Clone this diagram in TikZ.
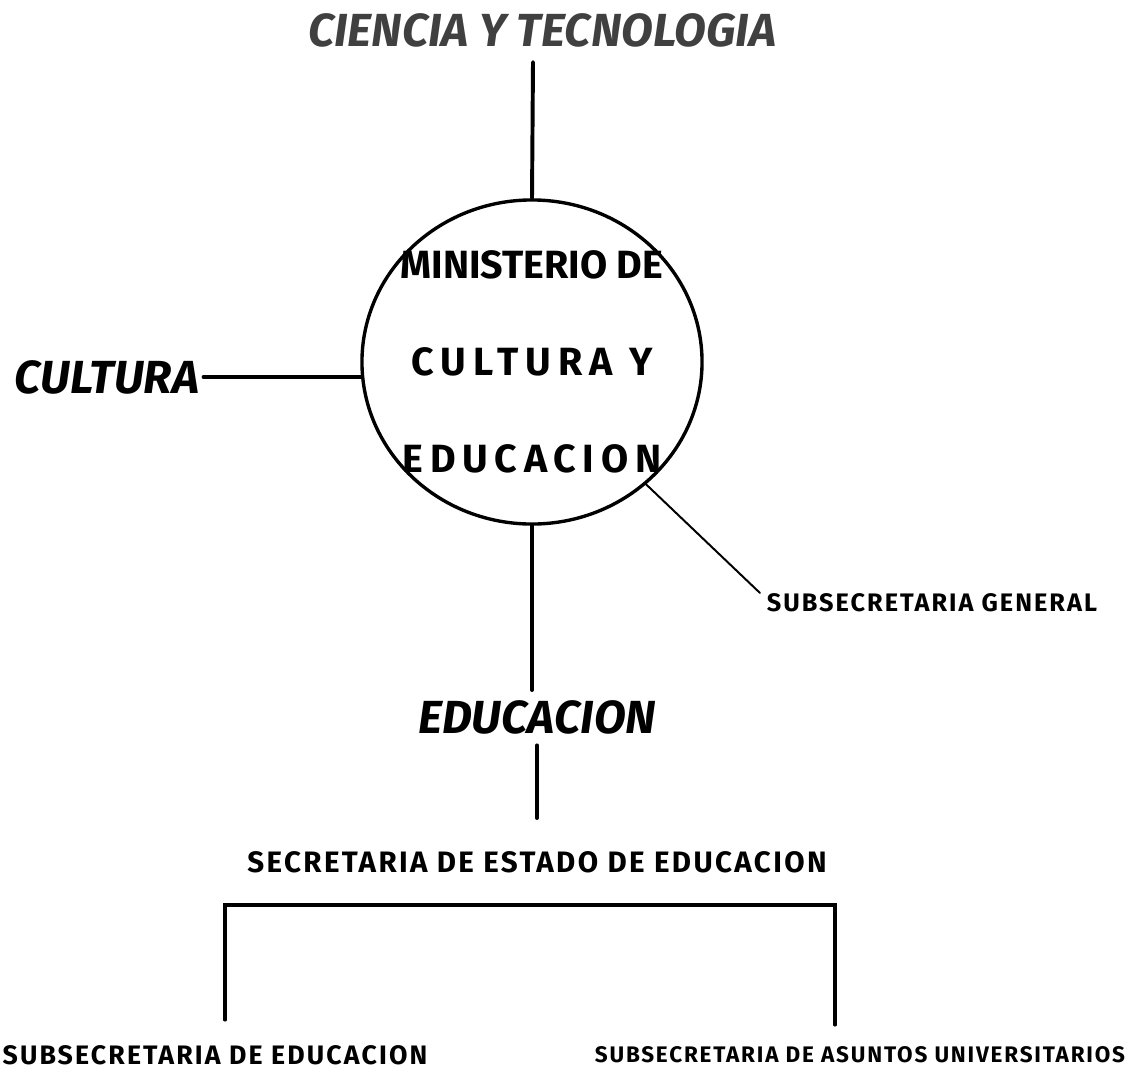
\documentclass[tikz,border=0pt]{standalone}
\usepackage{fontspec}
\setmainfont{Fira Sans}
\usetikzlibrary{shapes.geometric}

\begin{document}
\begin{tikzpicture}[x=0.025cm, y=-0.025cm, line cap=round]
    \tikzstyle{every node}=[inner sep=0pt];
    \tikzstyle{big}=[font=\fontsize{33}{36}\selectfont\bfseries\itshape];
    \tikzstyle{ring}=[font=\fontsize{28}{69}\selectfont\bfseries, align=center];
    \tikzset{small/.style={font=\fontsize{#1}{#1}\selectfont\bfseries\addfontfeature{LetterSpace=8}}};
    \tikzstyle{heavy}=[line width=2.8pt];
    \tikzstyle{light}=[line width=1.4pt];

    \useasboundingbox (0,0) rectangle (1131,1073);

    \node at (542, 30)   (ciencia) [big, text=darkgray] {CIENCIA Y TECNOLOGIA};
    \node at (532, 362)  (mce) [ellipse, draw, line width=2.4pt,
        minimum width=8.5cm, minimum height=8.1cm,
        label={[ring]center:MINISTERIO DE\\{\addfontfeature{LetterSpace=18}CULTURA Y}\\{\addfontfeature{LetterSpace=17}EDUCACION}}] {};
    \node at (107, 377)  (cultura) [big] {CULTURA};
    \node at (537, 717)  (educ) [big] {EDUCACION};
    \node at (932, 603)  (subgen) [small=18] {SUBSECRETARIA GENERAL};
    \node at (537, 862)  (secest) [small=21] {SECRETARIA DE ESTADO DE EDUCACION};
    \node at (215, 1055) (subedu) [small=19] {SUBSECRETARIA DE EDUCACION};
    \node at (860, 1055) (subuni) [small=16] {SUBSECRETARIA DE ASUNTOS UNIVERSITARIOS};

    \coordinate (topend) at (533, 62);
    \coordinate (eduend) at (532, 690);
    \coordinate (secend) at (537, 818);
    \coordinate (genend) at (760, 593);
    \coordinate (lftop) at (225, 905);
    \coordinate (rttop) at (835, 905);
    \coordinate (lfbot) at (225, 1020);
    \coordinate (rtbot) at (835, 1025);

    \draw[heavy] (topend) -- (mce.north);
    \draw[heavy] ([xshift=3pt]cultura.east) -- (cultura.east -| mce.west);
    \draw[heavy] (mce.south) -- (eduend);
    \draw[heavy] ([yshift=-8pt]educ.south) -- (secend);
    \draw[light] (mce.-47) -- (genend);

    % bracket
    \draw[line width=2.2pt] (lfbot) -- (lftop) -- (rttop) -- (rtbot);
\end{tikzpicture}
\end{document}
